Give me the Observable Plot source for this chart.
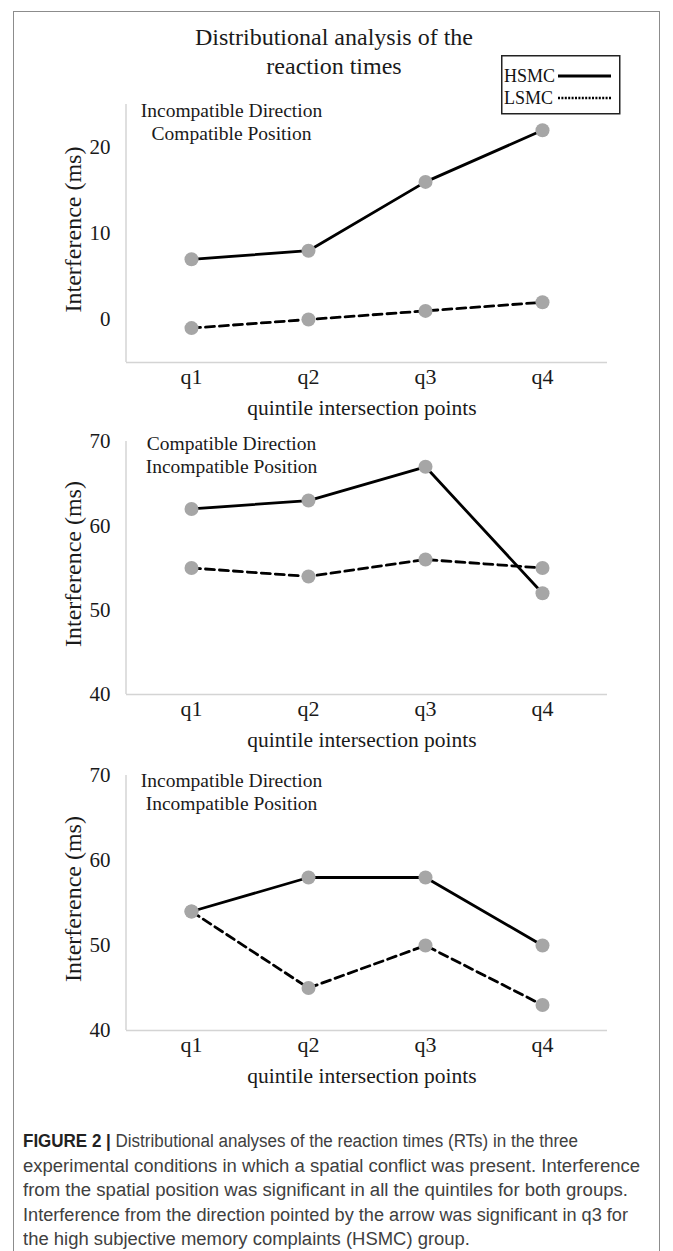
<!DOCTYPE html>
<html><head><meta charset="utf-8">
<script src="https://cdn.jsdelivr.net/npm/d3@7"></script>
<script src="https://cdn.jsdelivr.net/npm/@observablehq/plot@0.6"></script>
<style>
body{margin:0;background:#fff;}
#root{position:relative;width:673px;height:1251px;overflow:hidden;font-family:"Liberation Serif","Times New Roman",serif;color:#1a1a1a;}
.frame{position:absolute;left:13px;top:11px;width:647px;height:1300px;border:1.5px solid #8c8c8c;box-sizing:border-box;}
.title{position:absolute;left:134px;width:400px;top:23px;text-align:center;font-size:24px;line-height:29px;}
.panel{position:absolute;left:0;}
.legend{position:absolute;left:501px;top:55px;}
.caption{position:absolute;left:23px;top:1129px;width:640px;font-family:"Liberation Sans",Arial,sans-serif;font-size:18px;line-height:24.5px;color:#404040;white-space:nowrap;}
.caption div{height:24.5px;}
.caption span{display:inline-block;transform-origin:0 50%;}
.caption b{color:#222;}
</style></head>
<body><div id="root">
<div class="frame"></div>
<div class="title" id="title"></div>
<div id="panels"></div>
<div class="legend" id="legend"></div>
<div class="caption" id="caption"></div>
</div>
<script>
// ---- data ----
const quantiles = ["q1", "q2", "q3", "q4"];
const groups = ["HSMC", "LSMC"];
// Panel 1: Incompatible Direction / Compatible Position
const p1HSMC = [7, 8, 16, 22];
const p1LSMC = [-1, 0, 1, 2];
// Panel 2: Compatible Direction / Incompatible Position
const p2HSMC = [62, 63, 67, 52];
const p2LSMC = [55, 54, 56, 55];
// Panel 3: Incompatible Direction / Incompatible Position
const p3HSMC = [54, 58, 58, 50];
const p3LSMC = [54, 45, 50, 43];
const p1Ticks = [0, 10, 20];
const p23Ticks = [40, 50, 60, 70];
const titleLines = ["Distributional analysis of the", "reaction times"];
const xTitle = "quintile intersection points";
const yTitle = "Interference (ms)";
const notes = ["Incompatible Direction\nCompatible Position", "Compatible Direction\nIncompatible Position", "Incompatible Direction\nIncompatible Position"];
const captionLabel = "FIGURE 2 |";
const captionLines = [
  "Distributional analyses of the reaction times (RTs) in the three",
  "experimental conditions in which a spatial conflict was present. Interference",
  "from the spatial position was significant in all the quintiles for both groups.",
  "Interference from the direction pointed by the arrow was significant in q3 for",
  "the high subjective memory complaints (HSMC) group."
];
// widths each caption line occupies (layout)
const captionWidths = [555, 617, 605, 605, 447];

document.getElementById("title").innerHTML = titleLines.join("<br>");
const cap = document.getElementById("caption");
captionLines.forEach((l, i) => {
  const row = document.createElement("div");
  const span = document.createElement("span");
  span.innerHTML = (i === 0 ? "<b>" + captionLabel + "</b> " : "") + l;
  row.append(span);
  cap.append(row);
});
cap.querySelectorAll("span").forEach((s, i) => {
  const w = s.getBoundingClientRect().width;
  s.style.transform = `scaleX(${captionWidths[i] / w})`;
});

// legend
const lg = d3.create("svg").attr("width", 121).attr("height", 61);
lg.append("rect").attr("x", 0.75).attr("y", 0.75).attr("width", 118).attr("height", 58).attr("fill", "#fff").attr("stroke", "#222").attr("stroke-width", 1.5);
groups.forEach((g, i) => {
  const y = 21 + i * 22;
  lg.append("text").attr("x", 3).attr("y", y).attr("dy", "0.35em").attr("font-size", 18).attr("font-family", "Liberation Serif").attr("fill", "#111").text(g);
  lg.append("line").attr("x1", 57).attr("x2", 110).attr("y1", y).attr("y2", y).attr("stroke", "#000")
    .attr("stroke-width", i === 0 ? 3 : 2.5).attr("stroke-dasharray", i === 0 ? null : "2,1.4");
});
document.getElementById("legend").append(lg.node());

function leftAxisLine() {
  return (index, scales, values, dims) => {
    const g = d3.create("svg:g");
    g.append("line").attr("x1", dims.marginLeft).attr("x2", dims.marginLeft)
      .attr("y1", dims.marginTop).attr("y2", dims.height - dims.marginBottom)
      .attr("stroke", "#d4d4d4").attr("stroke-width", 1.5);
    return g.node();
  };
}

function panel(cfg) {
  const data = [];
  quantiles.forEach((q, i) => data.push({q, v: cfg.hsmc[i], g: "HSMC"}));
  quantiles.forEach((q, i) => data.push({q, v: cfg.lsmc[i], g: "LSMC"}));
  const svg = Plot.plot({
    width: 673, height: cfg.height,
    marginLeft: 126, marginRight: 66, marginTop: cfg.mTop, marginBottom: cfg.height - cfg.mTop - cfg.plotH,
    style: {fontFamily: "Liberation Serif, Times New Roman, serif", background: "transparent", color: "#1a1a1a", overflow: "visible"},
    x: {type: "point", domain: quantiles, padding: 0.54},
    y: {domain: cfg.domain},
    marks: [
      Plot.ruleY([cfg.domain[0]], {stroke: "#d4d4d4", strokeWidth: 1.5}),
      leftAxisLine(),
      Plot.axisY({ticks: cfg.ticks, tickSize: 0, tickPadding: 16, fontSize: 21, label: null, tickFormat: d => String(d)}),
      Plot.axisX({tickSize: 0, tickPadding: 6, fontSize: 22, label: null}),
      Plot.text([xTitle], {frameAnchor: "bottom", textAnchor: "middle", lineAnchor: "middle", dx: -5, dy: 46, fontSize: 21.5}),
      Plot.text([yTitle], {frameAnchor: "left", textAnchor: "middle", lineAnchor: "middle", rotate: -90, dx: -53, dy: -4, fontSize: 24}),
      Plot.text([cfg.note], {frameAnchor: "top-left", dx: 105, dy: cfg.noteDy, lineAnchor: "top", textAnchor: "middle", fontSize: 19.5, lineHeight: 1.17}),
      Plot.line(data.filter(d => d.g === "HSMC"), {x: "q", y: "v", stroke: "#000", strokeWidth: 2.8}),
      Plot.line(data.filter(d => d.g === "LSMC"), {x: "q", y: "v", stroke: "#000", strokeWidth: 2.8, strokeDasharray: "9,5"}),
      Plot.dot(data, {x: "q", y: "v", r: 7, fill: "#a6a6a6", stroke: "none"})
    ]
  });
  const wrap = document.createElement("div");
  wrap.className = "panel";
  wrap.style.top = cfg.top + "px";
  wrap.append(svg);
  document.getElementById("panels").append(wrap);
}

panel({top: 90, height: 335, mTop: 14, plotH: 258, domain: [-5, 25], ticks: p1Ticks, hsmc: p1HSMC, lsmc: p1LSMC, note: notes[0], noteDy: -4});
panel({top: 425, height: 335, mTop: 16, plotH: 253, domain: [40, 70], ticks: p23Ticks, hsmc: p2HSMC, lsmc: p2LSMC, note: notes[1], noteDy: -8});
panel({top: 760, height: 335, mTop: 15, plotH: 255, domain: [40, 70], ticks: p23Ticks, hsmc: p3HSMC, lsmc: p3LSMC, note: notes[2], noteDy: -5});
</script>
</body></html>
